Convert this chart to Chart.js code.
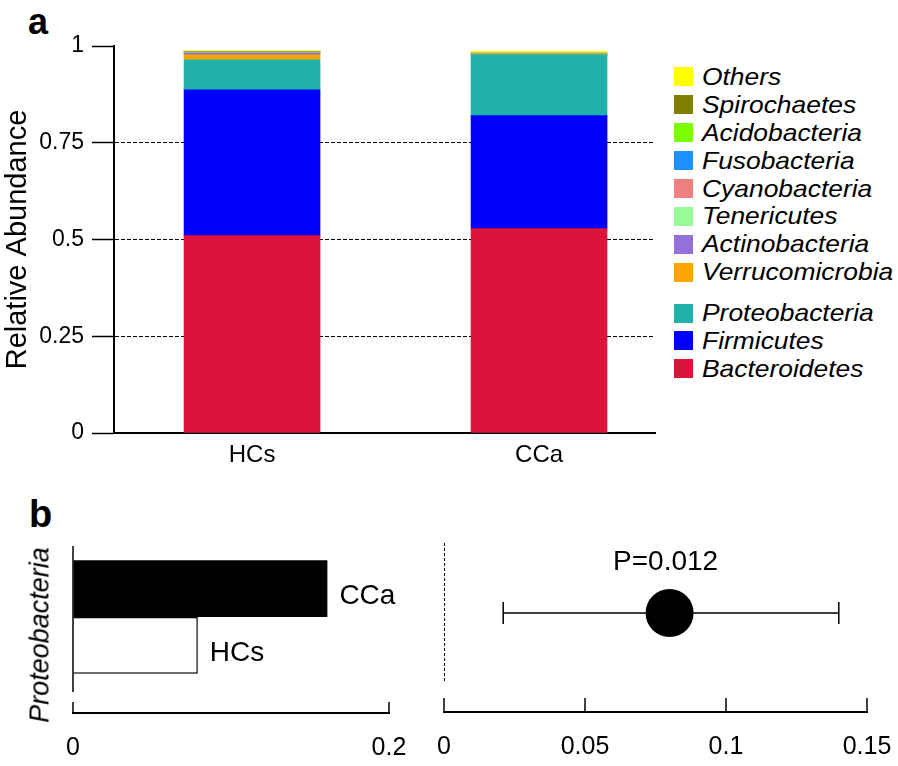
<!DOCTYPE html>
<html><head><meta charset="utf-8">
<script src="https://cdn.jsdelivr.net/npm/chart.js@4.4.0/dist/chart.umd.min.js"></script>
<style>
html,body{margin:0;padding:0;background:#fff;}
#wrap{position:relative;width:898px;height:766px;overflow:hidden;background:#fff;font-family:'Liberation Sans',Arial,sans-serif;color:#000;}
canvas{position:absolute;}
#cA{left:0;top:0;}
#cB1{left:0;top:490px;}
#cB2{left:420px;top:490px;}
.panel{position:absolute;font-weight:bold;line-height:1;}
#legend{position:absolute;left:674px;top:63px;}
.li{display:flex;align-items:center;height:27.9px;}
.sw{width:19px;height:19px;margin-right:9px;flex:none;}
.lt{font-style:italic;font-size:24px;transform:scaleX(1.1);transform-origin:left center;white-space:nowrap;}
#ylab{position:absolute;left:40px;top:635px;font-style:italic;font-size:27px;white-space:nowrap;transform:translate(-50%,-50%) rotate(-90deg);line-height:1;}
</style>
</head><body>
<div id="wrap">
  <div class="panel" style="left:28px;top:4px;font-size:36px;">a</div>
  <div class="panel" style="left:29px;top:495px;font-size:38px;">b</div>
  <canvas id="cA" width="670" height="480"></canvas>
  <div id="legend"></div>
  <canvas id="cB1" width="420" height="276"></canvas>
  <canvas id="cB2" width="478" height="276"></canvas>
  <div id="ylab"></div>
</div>
<script>
// ---------- Panel a data ----------
const groups = ['HCs', 'CCa'];
const phyla = ['Bacteroidetes','Firmicutes','Proteobacteria','Verrucomicrobia','Actinobacteria','Tenericutes','Cyanobacteria','Fusobacteria','Acidobacteria','Spirochaetes','Others'];
const majorPhyla = ['Bacteroidetes','Firmicutes','Proteobacteria'];
const phylaColors = ['#DC143C','#0000FF','#20B2AA','#FFA500','#9370DB','#98FB98','#F08080','#1E90FF','#7CFC00','#808000','#FFFF00'];
const abundHCs = [0.510, 0.377, 0.077, 0.013, 0.004, 0.001, 0.001, 0.001, 0.0005, 0.0005, 0.003];
const abundCCa = [0.528, 0.292, 0.157, 0.001, 0.001, 0.0005, 0.0005, 0.0005, 0.0005, 0.0005, 0.005];
const yTicksA = [0, 0.25, 0.5, 0.75, 1];
const yTickLabelsA = ['0', '0.25', '0.5', '0.75', '1'];

// ---------- Panel b data ----------
const bTaxon = ['Proteobacteria'];
const bGroups = ['CCa', 'HCs'];
const bMeans = [0.161, 0.079];
const bXTicks = [0, 0.2];
const bXTickLabels = ['0', '0.2'];
const diffMean = [0.080];
const ciLow = [0.021];
const ciHigh = [0.140];
const pLabels = ['P=0.012'];
const dXTicks = [0, 0.05, 0.1, 0.15];
const dXTickLabels = ['0', '0.05', '0.1', '0.15'];

const FONT = "'Liberation Sans', Arial, sans-serif";
Chart.defaults.font.family = FONT;
Chart.defaults.color = '#000';
const CLEAR = 'rgba(0,0,0,0)';

// ---------- Chart a ----------
const groupVals = { HCs: abundHCs, CCa: abundCCa };
new Chart(document.getElementById('cA'), {
  type: 'bar',
  data: {
    datasets: phyla.map((p, k) => ({
      label: p,
      data: groups.map((g, i) => ({ x: i + 1, y: groupVals[g][k] })),
      backgroundColor: phylaColors[k],
      borderWidth: 0,
      barThickness: 136
    }))
  },
  options: {
    responsive: false,
    animation: false,
    events: [],
    layout: { padding: { left: 0, right: 15, top: 46, bottom: 0 } },
    plugins: { legend: { display: false }, tooltip: { enabled: false } },
    scales: {
      x: {
        type: 'linear', stacked: true, min: 0.519, max: 2.404, offset: false,
        afterBuildTicks: s => { s.ticks = groups.map((g, i) => ({ value: i + 1 })); },
        afterFit: s => { s.height = 47; },
        ticks: { callback: (v, i) => groups[i], font: { size: 24 }, padding: 8, maxRotation: 0, autoSkip: false },
        grid: { display: false, drawTicks: false },
        border: { display: true, color: '#000', width: 2 }
      },
      y: {
        stacked: true, min: 0, max: 1,
        afterBuildTicks: s => { s.ticks = yTicksA.map(v => ({ value: v })); },
        afterFit: s => { s.width = 114; },
        ticks: { callback: (v, i) => yTickLabelsA[i], font: { size: 23 }, padding: 8 },
        grid: {
          color: c => (c.tick && c.tick.value > 0 && c.tick.value < 1) ? '#000' : CLEAR,
          lineWidth: 1, tickColor: '#000', tickLength: 22, tickWidth: 1.5
        },
        border: { display: true, color: '#000', width: 2, dash: [4, 2] },
        title: { display: true, text: 'Relative Abundance', font: { size: 29 }, padding: { top: 1, bottom: 0 } }
      }
    }
  }
});

// legend (HTML)
const legendEl = document.getElementById('legend');
phyla.map((p, k) => ({ p, c: phylaColors[k] })).reverse().forEach(item => {
  const row = document.createElement('div');
  row.className = 'li';
  if (item.p === majorPhyla[majorPhyla.length - 1]) row.style.marginTop = '13px';
  const sw = document.createElement('div'); sw.className = 'sw'; sw.style.background = item.c;
  const t = document.createElement('div'); t.className = 'lt'; t.textContent = item.p;
  row.appendChild(sw); row.appendChild(t); legendEl.appendChild(row);
});

// ---------- shared plugin: detached bottom axis ----------
const detachedAxis = {
  id: 'detachedAxis',
  afterDraw(chart, args, opts) {
    const { ctx, chartArea } = chart;
    const xs = chart.scales.x;
    const yL = chartArea.bottom + opts.gap;
    ctx.save();
    ctx.strokeStyle = '#000';
    ctx.lineWidth = 2;
    ctx.beginPath();
    ctx.moveTo(xs.getPixelForValue(xs.min) - 1, yL);
    ctx.lineTo(xs.getPixelForValue(xs.max) + 1, yL);
    ctx.stroke();
    ctx.lineWidth = 1.5;
    xs.ticks.forEach(t => {
      const px = xs.getPixelForValue(t.value);
      ctx.beginPath(); ctx.moveTo(px, yL); ctx.lineTo(px, yL - opts.tickLen); ctx.stroke();
    });
    if (opts.yLine) {
      const px = xs.getPixelForValue(0);
      ctx.beginPath(); ctx.moveTo(px, chartArea.top); ctx.lineTo(px, chartArea.bottom + 4); ctx.stroke();
    }
    ctx.restore();
  }
};

// ---------- Chart b (left): group means ----------
const barEndLabels = {
  id: 'barEndLabels',
  afterDatasetsDraw(chart) {
    const ctx = chart.ctx;
    ctx.save();
    ctx.font = '28px ' + FONT;
    ctx.fillStyle = '#000';
    ctx.textAlign = 'left';
    ctx.textBaseline = 'middle';
    chart.data.datasets.forEach((ds, i) => {
      const el = chart.getDatasetMeta(i).data[0];
      ctx.fillText(ds.label, el.x + 12, el.y + 8);
    });
    ctx.restore();
  }
};
new Chart(document.getElementById('cB1'), {
  type: 'bar',
  data: {
    labels: bTaxon,
    datasets: bGroups.map((g, i) => ({
      label: g,
      data: [bMeans[i]],
      backgroundColor: i === 0 ? '#000' : '#fff',
      borderColor: '#000',
      borderWidth: i === 0 ? 0 : 1.5,
      categoryPercentage: 0.8,
      barPercentage: 1
    }))
  },
  options: {
    indexAxis: 'y',
    responsive: false,
    animation: false,
    events: [],
    layout: { padding: { left: 73, right: 31, top: 56, bottom: 0 } },
    plugins: { legend: { display: false }, tooltip: { enabled: false }, detachedAxis: { gap: 25, tickLen: 11, yLine: true } },
    scales: {
      x: {
        min: 0, max: 0.2,
        afterBuildTicks: s => { s.ticks = bXTicks.map(v => ({ value: v })); },
        afterFit: s => { s.height = 78; },
        ticks: { callback: (v, i) => bXTickLabels[i], font: { size: 25 }, padding: 2, maxRotation: 0, autoSkip: false },
        grid: { display: true, drawOnChartArea: false, drawTicks: true, tickLength: 43, tickColor: CLEAR, color: CLEAR },
        border: { display: false }
      },
      y: { display: false }
    }
  },
  plugins: [detachedAxis, barEndLabels]
});
document.getElementById('ylab').textContent = bTaxon[0];

// ---------- Chart b (right): difference with CI ----------
const errorBar = {
  id: 'errorBar',
  beforeDatasetsDraw(chart) {
    const { ctx } = chart;
    const xs = chart.scales.x;
    const meta = chart.getDatasetMeta(0);
    ctx.save();
    ctx.strokeStyle = '#000';
    ctx.lineWidth = 1.5;
    meta.data.forEach((pt, i) => {
      const x1 = xs.getPixelForValue(ciLow[i]);
      const x2 = xs.getPixelForValue(ciHigh[i]);
      ctx.beginPath();
      ctx.moveTo(x1, pt.y); ctx.lineTo(x2, pt.y);
      ctx.moveTo(x1, pt.y - 11); ctx.lineTo(x1, pt.y + 11);
      ctx.moveTo(x2, pt.y - 11); ctx.lineTo(x2, pt.y + 11);
      ctx.stroke();
    });
    ctx.restore();
  },
  afterDatasetsDraw(chart) {
    const { ctx } = chart;
    const meta = chart.getDatasetMeta(0);
    ctx.save();
    ctx.font = '28px ' + FONT;
    ctx.fillStyle = '#000';
    ctx.textAlign = 'center';
    ctx.textBaseline = 'middle';
    meta.data.forEach((pt, i) => { ctx.fillText(pLabels[i], pt.x - 4, pt.y - 51); });
    ctx.restore();
  }
};
new Chart(document.getElementById('cB2'), {
  type: 'scatter',
  data: {
    datasets: [{
      label: 'Difference',
      data: bTaxon.map((t, i) => ({ x: diffMean[i], y: t })),
      pointRadius: 24,
      pointBackgroundColor: '#000',
      pointBorderWidth: 0,
      clip: false
    }]
  },
  options: {
    responsive: false,
    animation: false,
    events: [],
    layout: { padding: { left: 23, right: 31, top: 53, bottom: 0 } },
    plugins: { legend: { display: false }, tooltip: { enabled: false }, detachedAxis: { gap: 29, tickLen: 14, yLine: false } },
    scales: {
      x: {
        type: 'linear', min: 0, max: 0.15, offset: false,
        afterBuildTicks: s => { s.ticks = dXTicks.map(v => ({ value: v })); },
        afterFit: s => { s.height = 83; },
        ticks: { callback: (v, i) => dXTickLabels[i], font: { size: 25 }, padding: 2, maxRotation: 0, autoSkip: false },
        grid: { color: c => (c.tick && c.tick.value === 0) ? '#000' : CLEAR, lineWidth: 1, drawTicks: true, tickLength: 47, tickColor: CLEAR },
        border: { display: false, dash: [3, 2] }
      },
      y: { type: 'category', labels: bTaxon, offset: true, display: false }
    }
  },
  plugins: [detachedAxis, errorBar]
});
</script>
</body></html>
